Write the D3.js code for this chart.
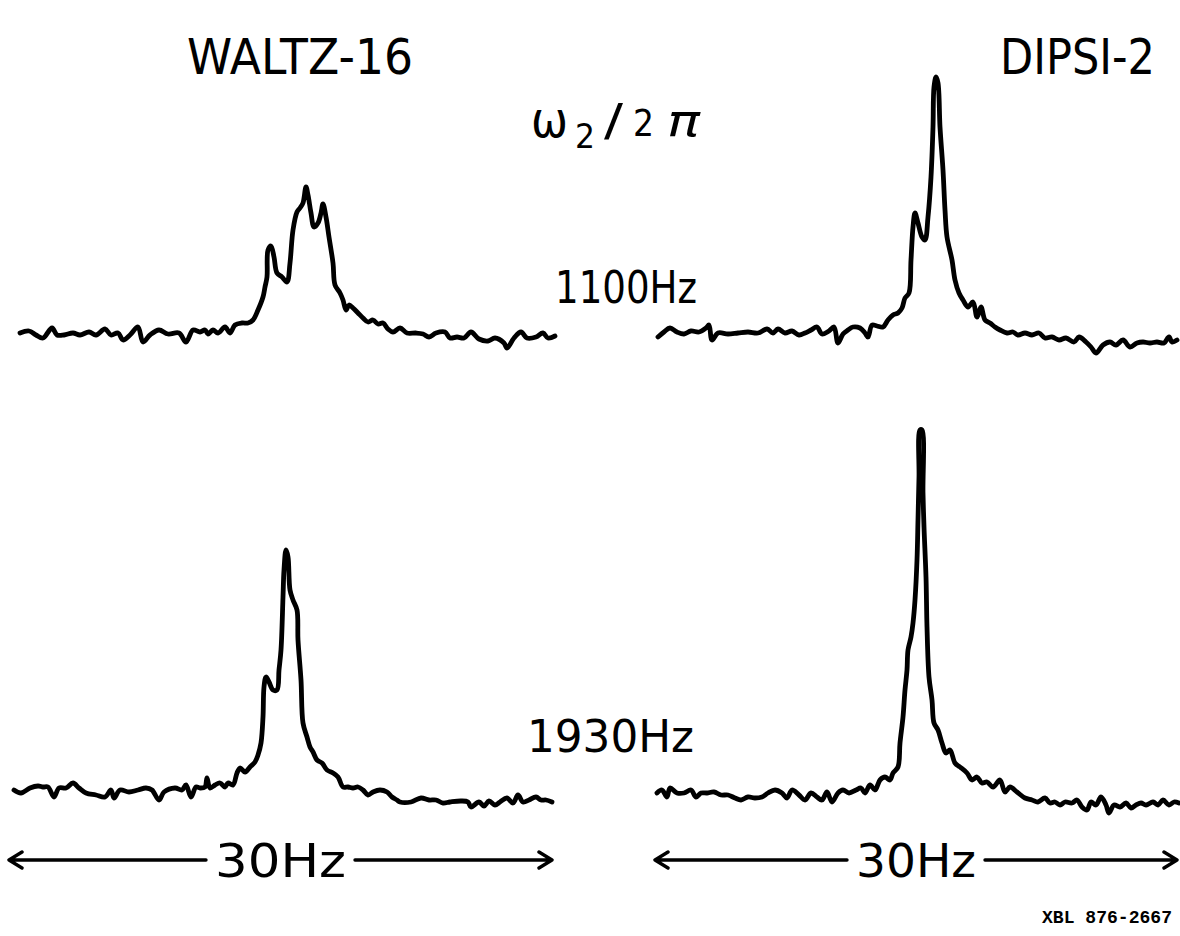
<!DOCTYPE html>
<html>
<head>
<meta charset="utf-8">
<script src="https://cdn.jsdelivr.net/npm/d3@7"></script>
<style>
  html, body { margin: 0; padding: 0; background: #fff; }
  svg { display: block; }
  text { font-family: "DejaVu Sans", sans-serif; fill: #000; }
</style>
</head>
<body>
<svg id="chart" width="1180" height="936"></svg>
<script>
// ---- Data: [point index across the 30 Hz window, intensity (arb. units)] ----
const columnTitles = ["WALTZ-16", "DIPSI-2"];
const rowLabels = ["1100Hz", "1930Hz"];
const axisLabel = "ω2/2π";
const spanLabel = "30Hz";
const figureId = "XBL 876-2667";

const waltz1100 = [[10,12],[19,14],[26,10],[33,7],[42,17],[47,10],[54,10],[63,12],[70,10],[79,13],[86,10],[95,16],[101,10],[108,12],[113,5],[120,10],[128,18],[133,3],[140,10],[149,15],[158,11],[169,12],[176,3],[183,15],[190,13],[195,15],[198,11],[203,15],[208,12],[215,18],[220,12],[225,20],[232,22],[238,22],[243,25],[248,35],[253,48],[255,58],[257,68],[258,95],[261,99],[264,88],[267,72],[272,68],[277,63],[280,82],[283,115],[287,133],[290,137],[293,142],[296,158],[298,150],[301,132],[304,118],[308,122],[311,132],[313,141],[316,128],[319,108],[323,82],[325,60],[330,52],[333,45],[336,35],[339,40],[343,37],[348,32],[353,27],[358,23],[363,25],[368,21],[373,22],[378,16],[383,13],[390,17],[397,12],[406,12],[413,11],[419,8],[426,12],[435,13],[440,7],[447,8],[454,7],[461,13],[469,6],[478,4],[485,7],[494,2],[497,-3],[504,7],[511,13],[517,7],[526,8],[533,12],[538,7],[545,9]];

const dipsi1100 = [[8,8],[14,13],[20,17],[27,13],[34,11],[41,14],[49,13],[56,17],[59,20],[62,5],[68,12],[78,11],[88,12],[98,13],[108,12],[117,16],[123,12],[128,16],[135,12],[142,14],[149,10],[155,12],[161,15],[167,18],[172,11],[179,14],[184,18],[188,2],[193,11],[198,15],[203,18],[210,17],[215,12],[218,8],[222,20],[227,19],[233,18],[238,25],[243,30],[248,32],[252,37],[255,47],[259,52],[261,85],[263,118],[265,132],[268,122],[272,108],[275,105],[278,128],[281,168],[283,218],[284,258],[286,268],[288,262],[290,218],[293,175],[295,135],[297,108],[302,85],[305,65],[309,52],[313,45],[318,38],[323,43],[327,28],[331,38],[335,25],[340,22],[345,18],[350,15],[357,12],[363,13],[368,10],[375,12],[382,10],[389,12],[395,7],[402,8],[409,5],[416,7],[424,3],[429,8],[436,3],[441,-2],[446,-8],[453,0],[460,3],[466,0],[473,5],[480,-2],[487,2],[493,3],[500,2],[507,3],[514,2],[519,8],[522,3],[527,5]];

const waltz1930 = [[4,20],[11,17],[20,22],[28,24],[33,23],[38,23],[44,13],[49,22],[56,22],[63,27],[69,22],[76,17],[86,15],[95,13],[101,20],[104,12],[110,20],[119,18],[128,20],[136,22],[142,20],[149,10],[154,18],[165,22],[172,20],[176,25],[181,13],[186,23],[190,22],[195,23],[197,32],[200,22],[205,25],[210,27],[215,23],[218,27],[223,25],[227,37],[230,42],[235,38],[240,43],[245,48],[248,55],[251,67],[253,93],[254,123],[256,133],[259,128],[263,120],[267,120],[269,140],[271,160],[273,213],[274,240],[276,260],[278,253],[280,220],[283,210],[287,200],[288,170],[291,130],[293,87],[297,73],[300,63],[303,58],[307,50],[312,47],[317,40],[323,37],[328,33],[333,23],[338,23],[343,22],[348,23],[353,20],[358,15],[363,18],[370,20],[377,18],[382,13],[387,10],[390,8],[401,8],[411,12],[419,10],[426,10],[433,7],[440,8],[451,9],[458,8],[461,3],[469,8],[474,4],[479,9],[485,5],[490,8],[497,12],[503,7],[508,15],[513,8],[519,10],[526,13],[531,10],[536,10],[542,8]];

const dipsi1930 = [[7,17],[12,20],[17,13],[20,22],[27,17],[34,17],[41,20],[46,13],[51,17],[57,17],[64,18],[71,15],[78,15],[85,12],[91,10],[98,13],[105,12],[112,13],[118,17],[125,20],[132,17],[137,12],[142,20],[149,15],[155,10],[161,17],[167,13],[172,10],[177,18],[182,8],[188,17],[193,20],[199,17],[206,20],[211,22],[215,17],[220,25],[225,20],[230,30],[235,33],[240,30],[243,37],[248,43],[250,67],[253,93],[255,120],[257,140],[258,160],[261,173],[263,187],[265,210],[267,250],[268,290],[269,333],[270,380],[272,380],[273,317],[274,283],[276,233],[277,183],[279,133],[282,110],[284,87],[288,80],[292,67],[296,57],[300,60],[305,47],[310,43],[317,37],[322,30],[327,33],[332,27],[337,28],[343,23],[350,30],[355,18],[360,23],[367,18],[375,12],[382,10],[388,8],[395,12],[400,7],[405,8],[410,5],[415,8],[422,7],[427,10],[432,3],[437,0],[441,8],[446,5],[451,13],[456,5],[459,-3],[464,5],[470,3],[476,7],[481,2],[486,5],[491,7],[496,5],[503,8],[508,5],[513,10],[519,5],[524,8],[529,7]];

// ---- Scales ----
const xLeft  = d3.scaleLinear().domain([0, 540]).range([10, 550]);
const xRight = d3.scaleLinear().domain([0, 540]).range([650, 1190]);
const yTop   = d3.scaleLinear().domain([0, 300]).range([345, 45]);
const yBot   = d3.scaleLinear().domain([0, 400]).range([810, 410]);

const svg = d3.select("#chart");

const panels = [
  {data: waltz1100, x: xLeft,  y: yTop},
  {data: dipsi1100, x: xRight, y: yTop},
  {data: waltz1930, x: xLeft,  y: yBot},
  {data: dipsi1930, x: xRight, y: yBot}
];

panels.forEach(p => {
  const line = d3.line()
    .x(d => p.x(d[0]))
    .y(d => p.y(d[1]))
    .curve(d3.curveCatmullRom.alpha(0.5));
  svg.append("path")
    .datum(p.data)
    .attr("d", line)
    .attr("fill", "none")
    .attr("stroke", "#000")
    .attr("stroke-width", 4.8)
    .attr("stroke-linejoin", "round")
    .attr("stroke-linecap", "round");
});

// ---- Titles ----
svg.append("text").attr("x", 187).attr("y", 74)
  .attr("font-size", 50).attr("textLength", 226).attr("lengthAdjust", "spacingAndGlyphs")
  .text(columnTitles[0]);
svg.append("text").attr("x", 1000).attr("y", 74)
  .attr("font-size", 50).attr("textLength", 155).attr("lengthAdjust", "spacingAndGlyphs")
  .text(columnTitles[1]);

// ---- ω2/2π label ----
const g = svg.append("g");
g.append("text").attr("x", 531).attr("y", 137).attr("font-size", 50)
  .attr("textLength", 37).attr("lengthAdjust", "spacingAndGlyphs").text("ω");
g.append("text").attr("x", 575).attr("y", 148).attr("font-size", 34)
  .attr("textLength", 20).attr("lengthAdjust", "spacingAndGlyphs").text("2");
g.append("text").attr("x", 604).attr("y", 136).attr("font-size", 44)
  .attr("textLength", 19).attr("lengthAdjust", "spacingAndGlyphs").text("/");
g.append("text").attr("x", 633).attr("y", 136).attr("font-size", 38)
  .attr("textLength", 21).attr("lengthAdjust", "spacingAndGlyphs").text("2");
g.append("text").attr("x", 667).attr("y", 136).attr("font-size", 44).attr("font-style", "italic")
  .attr("textLength", 33).attr("lengthAdjust", "spacingAndGlyphs").text("π");

// ---- Row labels ----
svg.append("text").attr("x", 555).attr("y", 303)
  .attr("font-size", 44).attr("textLength", 142).attr("lengthAdjust", "spacingAndGlyphs")
  .text(rowLabels[0]);
svg.append("text").attr("x", 527).attr("y", 752)
  .attr("font-size", 45).attr("textLength", 167).attr("lengthAdjust", "spacingAndGlyphs")
  .text(rowLabels[1]);

// ---- 30 Hz span arrows ----
function spanArrow(x, lo, hi, textW, yy) {
  const a = x(lo), b = x(hi), c = (a + b) / 2;
  const gap = textW / 2 + 9;
  const p = d3.path();
  p.moveTo(a, yy); p.lineTo(c - gap, yy);
  p.moveTo(c + gap, yy); p.lineTo(b, yy);
  p.moveTo(a + 13, yy - 8); p.lineTo(a, yy); p.lineTo(a + 13, yy + 8);
  p.moveTo(b - 13, yy - 8); p.lineTo(b, yy); p.lineTo(b - 13, yy + 8);
  svg.append("path").attr("d", p.toString())
    .attr("fill", "none").attr("stroke", "#000").attr("stroke-width", 3.4)
    .attr("stroke-linecap", "round").attr("stroke-linejoin", "round");
  svg.append("text").attr("x", c - textW / 2).attr("y", yy + 17)
    .attr("font-size", 46).attr("textLength", textW).attr("lengthAdjust", "spacingAndGlyphs")
    .text(spanLabel);
}
spanArrow(xLeft, -1, 542, 131, 860);
spanArrow(xRight, 5, 527, 120, 860);

// ---- figure id ----
svg.append("text").attr("x", 1042).attr("y", 923)
  .style("font-family", "'Liberation Mono', monospace").style("font-weight", "bold")
  .attr("font-size", 18).attr("textLength", 130).attr("lengthAdjust", "spacingAndGlyphs")
  .text(figureId);
</script>
</body>
</html>
